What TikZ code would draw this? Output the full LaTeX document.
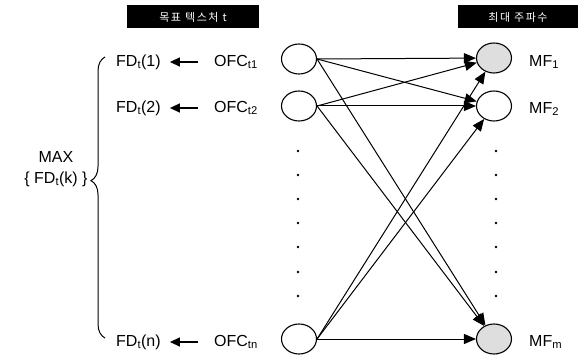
\documentclass[tikz,border=0pt]{standalone}
\usepackage{fontspec}
\setmainfont{Liberation Sans}
\newfontfamily\krfont[LetterSpace=14]{Noto Sans CJK KR}
\usetikzlibrary{shapes.geometric,arrows.meta,decorations.pathreplacing}
\begin{document}
\begin{tikzpicture}[x=1pt,y=-1pt,
  lbl/.style={font=\fontsize{16}{18}\selectfont,inner sep=0pt},
  unit/.style={ellipse,draw,line width=1.1pt,minimum width=35pt,minimum height=30pt,inner sep=0pt},
  hot/.style={unit,fill=black!13},
  edge/.style={line width=1pt,-{Triangle[length=12pt,width=10pt]}},
  back/.style={line width=1.4pt,-{Triangle[length=10pt,width=9pt]},shorten >=9pt,shorten <=16pt},
  header/.style={fill=black,text=white,font=\krfont\fontsize{11}{13}\selectfont,minimum height=23pt,inner sep=0pt},
  dot/.style={circle,fill=black,inner sep=0pt,minimum size=2.6pt}]
\useasboundingbox (0,0) rectangle (584,358);

% column headers
\node[header,minimum width=132pt] (hl) at (193,17) {목표 텍스처 t};
\node[header,minimum width=120pt] (hr) at (518,17) {최대 주파수};

% input units
\node[unit] (s1) at (299,59) {};
\node[unit] (s2) at (299,106) {};
\node[unit] (sn) at (299,339) {};

% output units
\node[hot]  (d1) at (494,58) {};
\node[unit] (d2) at (494,106) {};
\node[hot]  (dm) at (494,339) {};

% row labels
\node[lbl,anchor=west] (f1) at (116,62) {FD\textsubscript{t}(1)};
\node[lbl,anchor=west] (f2) at (116,108) {FD\textsubscript{t}(2)};
\node[lbl,anchor=west] (fn) at (116,342) {FD\textsubscript{t}(n)};
\node[lbl,anchor=west] (o1) at (214,62) {OFC\textsubscript{t1}};
\node[lbl,anchor=west] (o2) at (214,108) {OFC\textsubscript{t2}};
\node[lbl,anchor=west] (on) at (214,342) {OFC\textsubscript{tn}};
\draw[back] (o1.west) -- (f1.east);
\draw[back] (o2.west) -- (f2.east);
\draw[back] (on.west) -- (fn.east);

\node[lbl,anchor=west] (m1) at (529,62) {MF\textsubscript{1}};
\node[lbl,anchor=west] (m2) at (529,109) {MF\textsubscript{2}};
\node[lbl,anchor=west] (mm) at (529,342) {MF\textsubscript{m}};

% full connections
\foreach \s in {s1,s2,sn}
  \foreach \d in {d1,d2,dm}
    \draw[edge] (\s.east) -- (\d);

% ellipsis dots
\foreach \y [count=\i] in {151,175,199,223,247,272,296} {
  \node[dot] (pl\i) at (298,\y) {};
  \node[dot] (pr\i) at (496,\y) {};
}

% maximum over rows
\coordinate (bb) at (105,338);
\coordinate (bt) at (105,57);
\draw[line width=1pt,decorate,decoration={brace,amplitude=14pt,aspect=0.56}] (bb) -- (bt);
\node[lbl,align=center] (mx) at (56,169) {MAX\\[3pt]\{ FD\textsubscript{t}(k) \}};
\end{tikzpicture}
\end{document}
